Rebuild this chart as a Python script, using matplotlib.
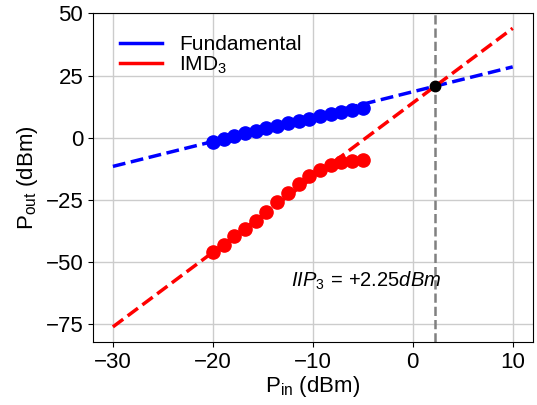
import numpy as np
import matplotlib
matplotlib.use('Agg')
import matplotlib.pyplot as plt

plt.rcParams['font.family'] = ['Liberation Sans', 'DejaVu Sans']
plt.rcParams['mathtext.fontset'] = 'custom'
plt.rcParams['mathtext.rm'] = 'Liberation Sans'
plt.rcParams['mathtext.it'] = 'Liberation Sans:italic'
plt.rcParams['font.size'] = 16

# measured input powers (dBm)
pin = [-20.0, -18.93, -17.86, -16.79, -15.71, -14.64, -13.57, -12.5,
       -11.43, -10.36, -9.29, -8.21, -7.14, -6.07, -5.0]
# measured output powers (dBm)
fund = [-1.5, -0.3, 0.8, 1.9, 2.9, 3.9, 4.9, 5.8, 6.8, 7.7, 8.6, 9.4,
        10.3, 11.1, 12.0]
imd3 = [-45.9, -42.9, -39.6, -36.5, -33.4, -29.8, -26.0, -22.2, -18.4,
        -15.2, -12.8, -10.9, -9.8, -9.3, -9.0]

# extrapolated lines: slope 1 for fundamental, slope 3 for IMD3
fund_slope, fund_icpt = 1.0, 18.5
imd_slope, imd_icpt = 3.0, 14.0
pin_ext = np.array([-30, 10])

iip3 = (fund_icpt - imd_icpt) / (imd_slope - fund_slope)
oip3 = fund_slope * iip3 + fund_icpt

fig, ax = plt.subplots(figsize=(5.37, 4.05), dpi=100)
fig.subplots_adjust(left=0.173, right=0.992, top=0.967, bottom=0.156)

ax.plot(pin, fund, 'o', color='blue', markersize=9.5)
ax.plot(pin, imd3, 'o', color='red', markersize=9.5)
ax.plot(pin_ext, fund_slope * pin_ext + fund_icpt, '--', color='blue',
        lw=2.5, label='Fundamental')
ax.plot(pin_ext, imd_slope * pin_ext + imd_icpt, '--', color='red',
        lw=2.5, label=r'IMD$_3$')
ax.plot(iip3, oip3, 'o', color='black', markersize=7.5, zorder=4)
ax.axvline(iip3, color='gray', ls='--', lw=1.8)

ax.text(-12.2, -57.5, r'$IIP_3\,=\,{+}%.2f dBm$' % iip3, fontsize=14.5,
        va='center')

ax.grid(True, color='#cccccc', lw=1)
ax.set_axisbelow(True)
ax.set_xticks([-30, -20, -10, 0, 10])
ax.set_yticks([-75, -50, -25, 0, 25, 50])
ax.set_xlabel(r'$\mathrm{P_{in}}\ $(dBm)', labelpad=1)
ax.set_ylabel(r'$\mathrm{P_{out}}\ $(dBm)', labelpad=4)
leg = ax.legend(loc='upper left', frameon=False, fontsize=15,
                handlelength=2.0, labelspacing=0.0,
                bbox_to_anchor=(0.02, 0.99))
for line in leg.get_lines():
    line.set_linestyle('-')

plt.savefig('out.png')
